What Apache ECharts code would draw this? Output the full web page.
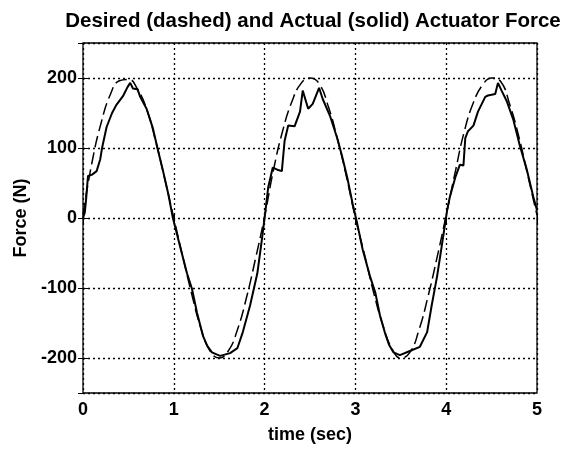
<!DOCTYPE html>
<html>
<head>
<meta charset="utf-8">
<script src="https://cdn.jsdelivr.net/npm/echarts@6/dist/echarts.min.js"></script>
<style>
html, body { margin: 0; padding: 0; background: #fff; }
#force_chart { width: 563px; height: 449px; }
</style>
</head>
<body>
<div id="force_chart"></div>
<script>
/** desired force, read every 0.1 s */
var desiredTime = [0, 0.1, 0.2, 0.3, 0.4, 0.5, 0.6, 0.7, 0.8, 0.9,
	1, 1.1, 1.2, 1.3, 1.4, 1.5, 1.6, 1.7, 1.8, 1.9,
	2, 2.1, 2.2, 2.3, 2.4, 2.5, 2.6, 2.7, 2.8, 2.9,
	3, 3.1, 3.2, 3.3, 3.4, 3.5, 3.6, 3.7, 3.8, 3.9,
	4, 4.1, 4.2, 4.3, 4.4, 4.5, 4.6, 4.7, 4.8, 4.9, 5];
var desiredForce = [5, 80, 136, 176, 196, 198, 184, 156, 110, 56,
	0, -56, -110, -158, -190, -200, -190, -160, -114, -58,
	2, 70, 125, 166, 192, 200, 192, 160, 114, 60,
	0, -52, -106, -152, -186, -200, -192, -160, -112, -56,
	4, 66, 124, 165, 190, 200, 195, 162, 116, 60, 4];

/** actual force, read at the corners of the trace */
var actualTime = [0, 0.02, 0.035, 0.055, 0.1, 0.15, 0.19, 0.21, 0.26, 0.32, 0.37, 0.44, 0.49, 0.52, 0.55, 0.6, 0.63, 0.7, 0.77, 0.82, 0.88, 0.94, 0.99,
	1.07, 1.145, 1.2, 1.255, 1.32, 1.37, 1.42, 1.51, 1.62, 1.7, 1.76, 1.84, 1.92, 1.97, 2.0,
	2.04, 2.09, 2.14, 2.19, 2.22, 2.26, 2.33, 2.39, 2.42, 2.48, 2.53, 2.6, 2.64, 2.72, 2.8, 2.85, 2.91, 2.97, 3.02,
	3.08, 3.16, 3.22, 3.27, 3.33, 3.37, 3.42, 3.49, 3.6, 3.71, 3.79, 3.84, 3.9, 3.95, 4.01,
	4.04, 4.1, 4.15, 4.19, 4.21, 4.24, 4.3, 4.35, 4.43, 4.46, 4.54, 4.57, 4.61, 4.67, 4.74, 4.81, 4.89, 4.96, 5.0];
var actualForce = [0, 8, 28, 60, 62, 67, 84, 100, 130, 150, 162, 174, 187, 193, 185, 184, 173, 156, 128, 100, 68, 34, 0,
	-41, -79, -101, -135, -168, -183, -192, -197, -193, -186, -163, -125, -79, -31, 0,
	44, 72, 69, 67, 110, 132, 131, 152, 182, 156, 163, 186, 170, 146, 114, 90, 58, 20, -8,
	-45, -83, -107, -139, -166, -181, -192, -196, -190, -184, -163, -125, -83, -41, 11,
	30, 58, 76, 75, 114, 124, 132, 152, 173, 175, 177, 193, 182, 166, 140, 104, 68, 30, 11];

var xTicks = [0, 1, 2, 3, 4, 5];
var yTicks = [-200, -100, 0, 100, 200];

function pairs(xs, ys) {
	var out = [];
	for (var i = 0; i < xs.length; i++) {
		out.push([xs[i], ys[i]]);
	}
	return out;
}

var FONT = 'Liberation Sans, Arial, sans-serif';
var labelStyle = { color: '#000', fontFamily: FONT, fontWeight: 'bold', fontSize: 18 };
var gridDots = { show: true, lineStyle: { color: '#000', type: [2, 3], width: 1.3 } };
var tickIn = { show: true, inside: true, length: 5, lineStyle: { color: '#000' } };

var forceChart = echarts.init(document.getElementById('force_chart'));
forceChart.setOption({
	backgroundColor: '#fff',
	animation: false,
	title: {
		text: 'Desired (dashed) and Actual (solid) Actuator Force',
		left: 308,
		textAlign: 'center',
		top: 6,
		textStyle: { color: '#000', fontFamily: FONT, fontWeight: 'bold', fontSize: 20.5 }
	},
	grid: {
		left: 83, right: 26, top: 43, bottom: 49,
		show: true, borderColor: '#000', borderWidth: 1.3, backgroundColor: '#fff'
	},
	xAxis: [{
		type: 'value', min: xTicks[0], max: xTicks[xTicks.length - 1], interval: 1,
		name: 'time (sec)', nameLocation: 'middle', nameGap: 33,
		nameTextStyle: labelStyle,
		axisLine: { show: false },
		axisTick: tickIn,
		axisLabel: { color: '#000', fontFamily: FONT, fontWeight: 'bold', fontSize: 18, margin: 8 },
		splitLine: gridDots
	}, {
		type: 'value', position: 'top', min: 0, max: 5, interval: 1,
		axisLine: { show: false }, axisTick: tickIn, axisLabel: { show: false }, splitLine: { show: false }
	}],
	yAxis: [{
		type: 'value', min: -250, max: 250, splitNumber: 5,
		name: 'Force (N)', nameLocation: 'middle', nameGap: 51,
		nameTextStyle: labelStyle,
		axisLine: { show: false },
		axisTick: tickIn,
		axisLabel: {
			color: '#000', fontFamily: FONT, fontWeight: 'bold', fontSize: 18, margin: 6,
			showMinLabel: false, showMaxLabel: false,
			formatter: function (v) { return yTicks.indexOf(v) >= 0 ? String(v) : ''; }
		},
		splitLine: gridDots
	}, {
		type: 'value', position: 'right', min: -250, max: 250, splitNumber: 5,
		axisLine: { show: false }, axisTick: tickIn, axisLabel: { show: false }, splitLine: { show: false }
	}],
	series: [{
		name: 'Desired',
		type: 'line',
		smooth: true,
		showSymbol: false,
		data: pairs(desiredTime, desiredForce),
		lineStyle: { color: '#000', width: 1.5, type: [12, 5] }
	}, {
		name: 'Actual',
		type: 'line',
		showSymbol: false,
		data: pairs(actualTime, actualForce),
		lineStyle: { color: '#000', width: 2 }
	}]
});
</script>
</body>
</html>
